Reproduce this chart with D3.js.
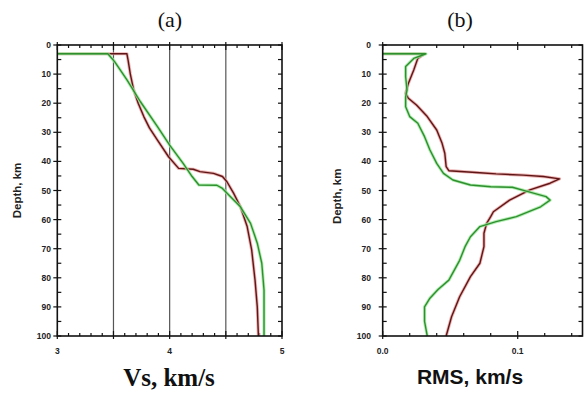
<!DOCTYPE html>
<html><head><meta charset="utf-8">
<script src="https://cdn.jsdelivr.net/npm/d3@7"></script>
<style>body{margin:0;background:#fff}svg{display:block}</style>
</head><body>
<script>
// ---- Data ----
// Panel (a): Vs profiles (depth km, Vs km/s)
const vsRedDepth = [3, 3, 3.1, 5.2, 10, 15.5, 20, 24.6, 28.5, 32.6, 38.4, 42.4, 42.7, 43.5, 44.1, 45.2, 47, 51, 55.6, 62.4, 70.4, 80.8, 90, 100];
const vsRedVal   = [3.0, 3.62, 3.62, 3.63, 3.65, 3.68, 3.72, 3.77, 3.82, 3.89, 3.99, 4.08, 4.21, 4.27, 4.39, 4.47, 4.51, 4.57, 4.63, 4.69, 4.73, 4.76, 4.78, 4.79];
const vsGreenDepth = [3, 3, 5.7, 12, 19.5, 28, 34.4, 40.7, 45.2, 48.1, 48.2, 49.3, 52.1, 55.6, 61.3, 68.1, 75, 84.2, 100];
const vsGreenVal   = [3.0, 3.45, 3.51, 3.62, 3.74, 3.89, 4.0, 4.12, 4.2, 4.26, 4.42, 4.47, 4.54, 4.63, 4.72, 4.78, 4.82, 4.84, 4.84];
// Panel (b): RMS profiles
const rmsRedDepth = [3, 3, 4.6, 8.6, 13.2, 16.6, 18.3, 20.6, 24.6, 29.2, 33.8, 37.2, 41.8, 43.2, 43.9, 44.3, 44.7, 45.2, 46, 47.5, 49.8, 53.3, 57.3, 59, 61.3, 64.7, 69.3, 75, 79.6, 86.5, 93.4, 100];
const rmsRedVal   = [0.0, 0.031, 0.026, 0.023, 0.019, 0.017, 0.019, 0.025, 0.033, 0.040, 0.044, 0.046, 0.047, 0.049, 0.072, 0.084, 0.104, 0.119, 0.131, 0.124, 0.109, 0.094, 0.082, 0.080, 0.077, 0.075, 0.075, 0.072, 0.065, 0.057, 0.051, 0.047];
const rmsGreenDepth = [3, 3, 4.6, 7.4, 10.9, 15.5, 17.8, 21.2, 24.6, 26.9, 31.5, 36.1, 40.7, 44.1, 46.4, 48.1, 48.7, 48.9, 50.3, 52.1, 53.3, 55.6, 59, 60.7, 62.4, 65.9, 69.3, 74, 80.8, 84, 87, 90, 95, 100];
const rmsGreenVal   = [0.0, 0.032, 0.023, 0.017, 0.017, 0.018, 0.017, 0.017, 0.020, 0.026, 0.031, 0.035, 0.040, 0.045, 0.052, 0.065, 0.080, 0.096, 0.107, 0.121, 0.124, 0.117, 0.099, 0.084, 0.072, 0.065, 0.061, 0.057, 0.049, 0.041, 0.035, 0.031, 0.031, 0.033];

const depthTicks = [0, 10, 20, 30, 40, 50, 60, 70, 80, 90, 100];
const vsTickLabels = [3, 4, 5];
const vsGrid = [3.5, 4, 4.5];
const rmsTickLabels = [0.0, 0.1];

// ---- Layout ----
const W = 586, H = 395;
const svg = d3.select("body").append("svg").attr("width", W).attr("height", H);

const y = d3.scaleLinear().domain([0, 100]).range([45, 336]);
const xa = d3.scaleLinear().domain([3, 5]).range([57.3, 282]);
const xb = d3.scaleLinear().domain([0, 0.148]).range([382.7, 582.5]);

const tickFont = "bold 8.5px 'Liberation Sans', Arial, sans-serif";

function frame(x, xDomain, minorStep, majorVals, labelVals, fmt, labelRight) {
  const g = svg.append("g");
  const [x0, x1] = x.range();
  const y0 = y(0), y1 = y(100);
  for (let d = 0; d <= 100; d += 5) {
    const major = d % 10 === 0;
    g.append("line").attr("x1", x0 - (major ? 4 : 0)).attr("x2", x0 + 4)
      .attr("y1", y(d)).attr("y2", y(d)).attr("stroke", "#111").attr("stroke-width", 1.2);
    g.append("line").attr("x1", x1 - 4).attr("x2", x1)
      .attr("y1", y(d)).attr("y2", y(d)).attr("stroke", "#111").attr("stroke-width", 1.2);
  }
  depthTicks.forEach(d => {
    g.append("text").attr("x", labelRight).attr("y", y(d) + 3).attr("text-anchor", "end")
      .style("font", tickFont).attr("fill", "#222").text(d);
  });
  const n = Math.round((xDomain[1] - xDomain[0]) / minorStep);
  for (let i = 0; i <= n; i++) {
    const v = xDomain[0] + i * minorStep;
    const major = majorVals.some(m => Math.abs(m - v) < 1e-9);
    const len = major ? 5 : 3;
    g.append("line").attr("x1", x(v)).attr("x2", x(v)).attr("y1", y1 - len).attr("y2", y1 + (major ? 3 : 0))
      .attr("stroke", "#111").attr("stroke-width", 1.2);
    g.append("line").attr("x1", x(v)).attr("x2", x(v)).attr("y1", y0 - (major ? 3 : 0)).attr("y2", y0 + len)
      .attr("stroke", "#111").attr("stroke-width", 1.2);
  }
  labelVals.forEach(v => {
    g.append("text").attr("x", x(v)).attr("y", y1 + 18).attr("text-anchor", "middle")
      .style("font", tickFont).attr("fill", "#222").text(fmt(v));
  });
  return g;
}

svg.selectAll(".grid").data(vsGrid).enter().append("line")
  .attr("x1", d => xa(d)).attr("x2", d => xa(d)).attr("y1", y(0)).attr("y2", y(100))
  .attr("stroke", "#555").attr("stroke-width", 1.2);

frame(xa, [3, 5], 0.1, [3, 3.5, 4, 4.5, 5], vsTickLabels, d3.format("d"), 51);
frame(xb, [0, 0.148], 0.02, [0, 0.1], rmsTickLabels, d3.format(".1f"), 371);

function profile(xs, depth, vals, halo, core) {
  const pts = depth.map((d, i) => [xs(vals[i]), y(d)]);
  const line = d3.line().curve(d3.curveLinear);
  svg.append("path").attr("d", line(pts)).attr("fill", "none").attr("stroke", halo)
    .attr("stroke-width", 3.2).attr("stroke-linejoin", "round").attr("opacity", 0.8);
  svg.append("path").attr("d", line(pts)).attr("fill", "none").attr("stroke", core)
    .attr("stroke-width", 1.4).attr("stroke-linejoin", "round");
}

profile(xa, vsRedDepth, vsRedVal, "#e9a0a0", "#5e1616");
profile(xa, vsGreenDepth, vsGreenVal, "#9fe89f", "#2f8f2f");
profile(xb, rmsRedDepth, rmsRedVal, "#e9a0a0", "#5e1616");
profile(xb, rmsGreenDepth, rmsGreenVal, "#9fe89f", "#2f8f2f");

[xa, xb].forEach(x => {
  const [x0, x1] = x.range();
  svg.append("rect").attr("x", x0).attr("y", y(0)).attr("width", x1 - x0).attr("height", y(100) - y(0))
    .attr("fill", "none").attr("stroke", "#111").attr("stroke-width", 1.6);
});

svg.append("text").attr("transform", `translate(21,${y(50)}) rotate(-90)`).attr("text-anchor", "middle")
  .style("font", "bold 11.5px 'Liberation Sans', Arial, sans-serif").attr("fill", "#222").text("Depth, km");
svg.append("text").attr("transform", `translate(341,${y(52)}) rotate(-90)`).attr("text-anchor", "middle")
  .style("font", "bold 11.5px 'Liberation Sans', Arial, sans-serif").attr("fill", "#222").text("Depth, km");

svg.append("text").attr("x", 170).attr("y", 27).attr("text-anchor", "middle")
  .style("font", "22px 'Liberation Serif', 'Times New Roman', serif").attr("fill", "#111").text("(a)");
svg.append("text").attr("x", 460).attr("y", 27).attr("text-anchor", "middle")
  .style("font", "22px 'Liberation Serif', 'Times New Roman', serif").attr("fill", "#111").text("(b)");
svg.append("text").attr("x", 169).attr("y", 386).attr("text-anchor", "middle")
  .style("font", "bold 25px 'Liberation Serif', 'Times New Roman', serif").attr("fill", "#111").text("Vs, km/s");
svg.append("text").attr("x", 470).attr("y", 384).attr("text-anchor", "middle")
  .style("font", "bold 21px 'Liberation Sans', Arial, sans-serif").attr("fill", "#111").text("RMS, km/s");
</script>
</body></html>
